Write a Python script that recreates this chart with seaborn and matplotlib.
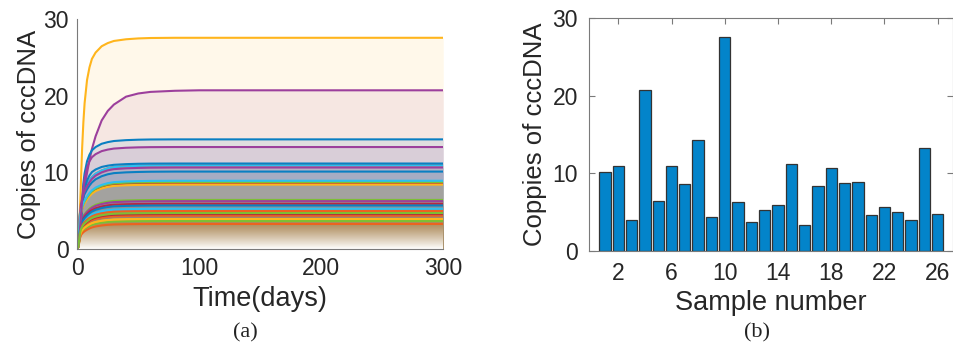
import numpy as np
import pandas as pd
import matplotlib
matplotlib.use("Agg")
import matplotlib.pyplot as plt
import seaborn as sns

# ---------------- data ----------------
samples = list(range(1, 27))
cccdna_copies = [10.1, 10.9, 3.9, 20.7, 6.4, 10.9, 8.6, 14.3, 4.35, 27.55,
                 6.24, 3.66, 5.25, 5.9, 11.15, 3.27, 8.4, 10.63, 8.74, 8.9,
                 4.56, 5.68, 4.95, 3.92, 13.3, 4.69]

# time grid (days) and rise-to-plateau fractions
time_days = [0, 1, 2, 3, 4, 5, 6, 8, 10, 12, 15, 20, 25, 30, 40, 50, 60, 80, 100, 300]
rise_fast = [0, 0.08, 0.40, 0.55, 0.62, 0.67, 0.71, 0.77, 0.82, 0.86,
             0.90, 0.94, 0.965, 0.98, 0.99, 0.995, 0.998, 1, 1, 1]
rise_medium = [0, 0.03, 0.15, 0.32, 0.48, 0.60, 0.69, 0.80, 0.86, 0.90,
               0.93, 0.96, 0.975, 0.985, 0.993, 0.997, 0.999, 1, 1, 1]
rise_slow = [0, 0.02, 0.10, 0.18, 0.26, 0.33, 0.39, 0.48, 0.56, 0.63,
             0.71, 0.81, 0.87, 0.91, 0.96, 0.98, 0.99, 0.997, 1, 1]
rise_group = {4: "slow", 8: "medium", 10: "medium", 15: "medium", 25: "medium"}

x_ticks_b = [2, 6, 10, 14, 18, 22, 26]
y_ticks = [0, 10, 20, 30]
x_ticks_a = [0, 100, 200, 300]

line_colors = ['#0a7fc2', '#ec6320', '#ffb51c', '#9c3f9c', '#7cbf35',
               '#2cc0f0', '#b8283e']
bar_color = '#0384ca'

profiles = {"fast": rise_fast, "medium": rise_medium, "slow": rise_slow}

rows = []
for s, plateau in zip(samples, cccdna_copies):
    prof = profiles[rise_group.get(s, "fast")]
    for t, f in zip(time_days, prof):
        rows.append({"sample": s, "t": t, "copies": plateau * f})
curves = pd.DataFrame(rows)
bars = pd.DataFrame({"sample": samples, "copies": cccdna_copies})

# ---------------- figure ----------------
sns.set_theme(style="white")
plt.rcParams['font.family'] = ['Liberation Sans', 'DejaVu Sans']

fig = plt.figure(figsize=(9.54, 3.54), dpi=100)
spine_col = '#7a7a7a'
tick_fs = 16.5
label_fs = 18.5

# ---- panel (a)
axa = fig.add_axes([0.081, 0.2966, 0.3836, 0.6497])
palette = {s: line_colors[(s - 1) % 7] for s in samples}
for s in sorted(samples, key=lambda k: -cccdna_copies[k - 1]):
    sub = curves[curves["sample"] == s]
    axa.fill_between(sub["t"], 0, sub["copies"], color=palette[s],
                     alpha=0.09, linewidth=0, zorder=1)
# white fade near the bottom
grad = np.ones((100, 1, 4))
grad[:, 0, 3] = np.linspace(0.0, 1.0, 100) ** 1.2
axa.imshow(grad, extent=[0, 300, 0, 3.4], aspect='auto', zorder=1.5,
           origin='upper', interpolation='bilinear')
sns.lineplot(data=curves, x="t", y="copies", hue="sample", palette=palette,
             legend=False, ax=axa, linewidth=1.5, zorder=2)
axa.set_xlim(0, 300)
axa.set_ylim(0, 30)
axa.set_xticks(x_ticks_a)
axa.set_yticks(y_ticks)
axa.set_xlabel("Time(days)", fontsize=label_fs + 1, color='#262626', labelpad=4)
axa.set_ylabel("Copies of cccDNA", fontsize=label_fs, color='#262626', labelpad=2)
for sp in ['top', 'right']:
    axa.spines[sp].set_visible(False)
for sp in ['left', 'bottom']:
    axa.spines[sp].set_color(spine_col)
    axa.spines[sp].set_linewidth(0.8)
axa.tick_params(direction='in', length=4, width=0.8, color=spine_col,
                labelsize=tick_fs, labelcolor='#262626', pad=6)

# ---- panel (b)
axb = fig.add_axes([0.6174, 0.2918, 0.3816, 0.6565])
sns.barplot(data=bars, x="sample", y="copies", native_scale=True,
            color=bar_color, saturation=1, edgecolor='#333333', linewidth=0.9,
            width=0.85, ax=axb, errorbar=None)
axb.set_xlim(-0.2, 27.15)
axb.set_ylim(0, 30)
axb.set_xticks(x_ticks_b)
axb.set_yticks(y_ticks)
axb.set_xlabel("Sample number", fontsize=label_fs + 1, color='#262626', labelpad=4)
axb.set_ylabel("Coppies of cccDNA", fontsize=label_fs, color='#262626', labelpad=4)
for sp in axb.spines.values():
    sp.set_visible(True)
    sp.set_color(spine_col)
    sp.set_linewidth(0.8)
axb.tick_params(direction='in', length=4, width=0.8, color=spine_col,
                labelsize=tick_fs, labelcolor='#262626', pad=8,
                top=True, right=True, bottom=True, left=True)

fig.text(0.257, 0.06, "(a)", ha='center', va='center', fontsize=16,
         family='Liberation Serif', color='#222222')
fig.text(0.793, 0.06, "(b)", ha='center', va='center', fontsize=16,
         family='Liberation Serif', color='#222222')

fig.savefig("out.png", dpi=100)
